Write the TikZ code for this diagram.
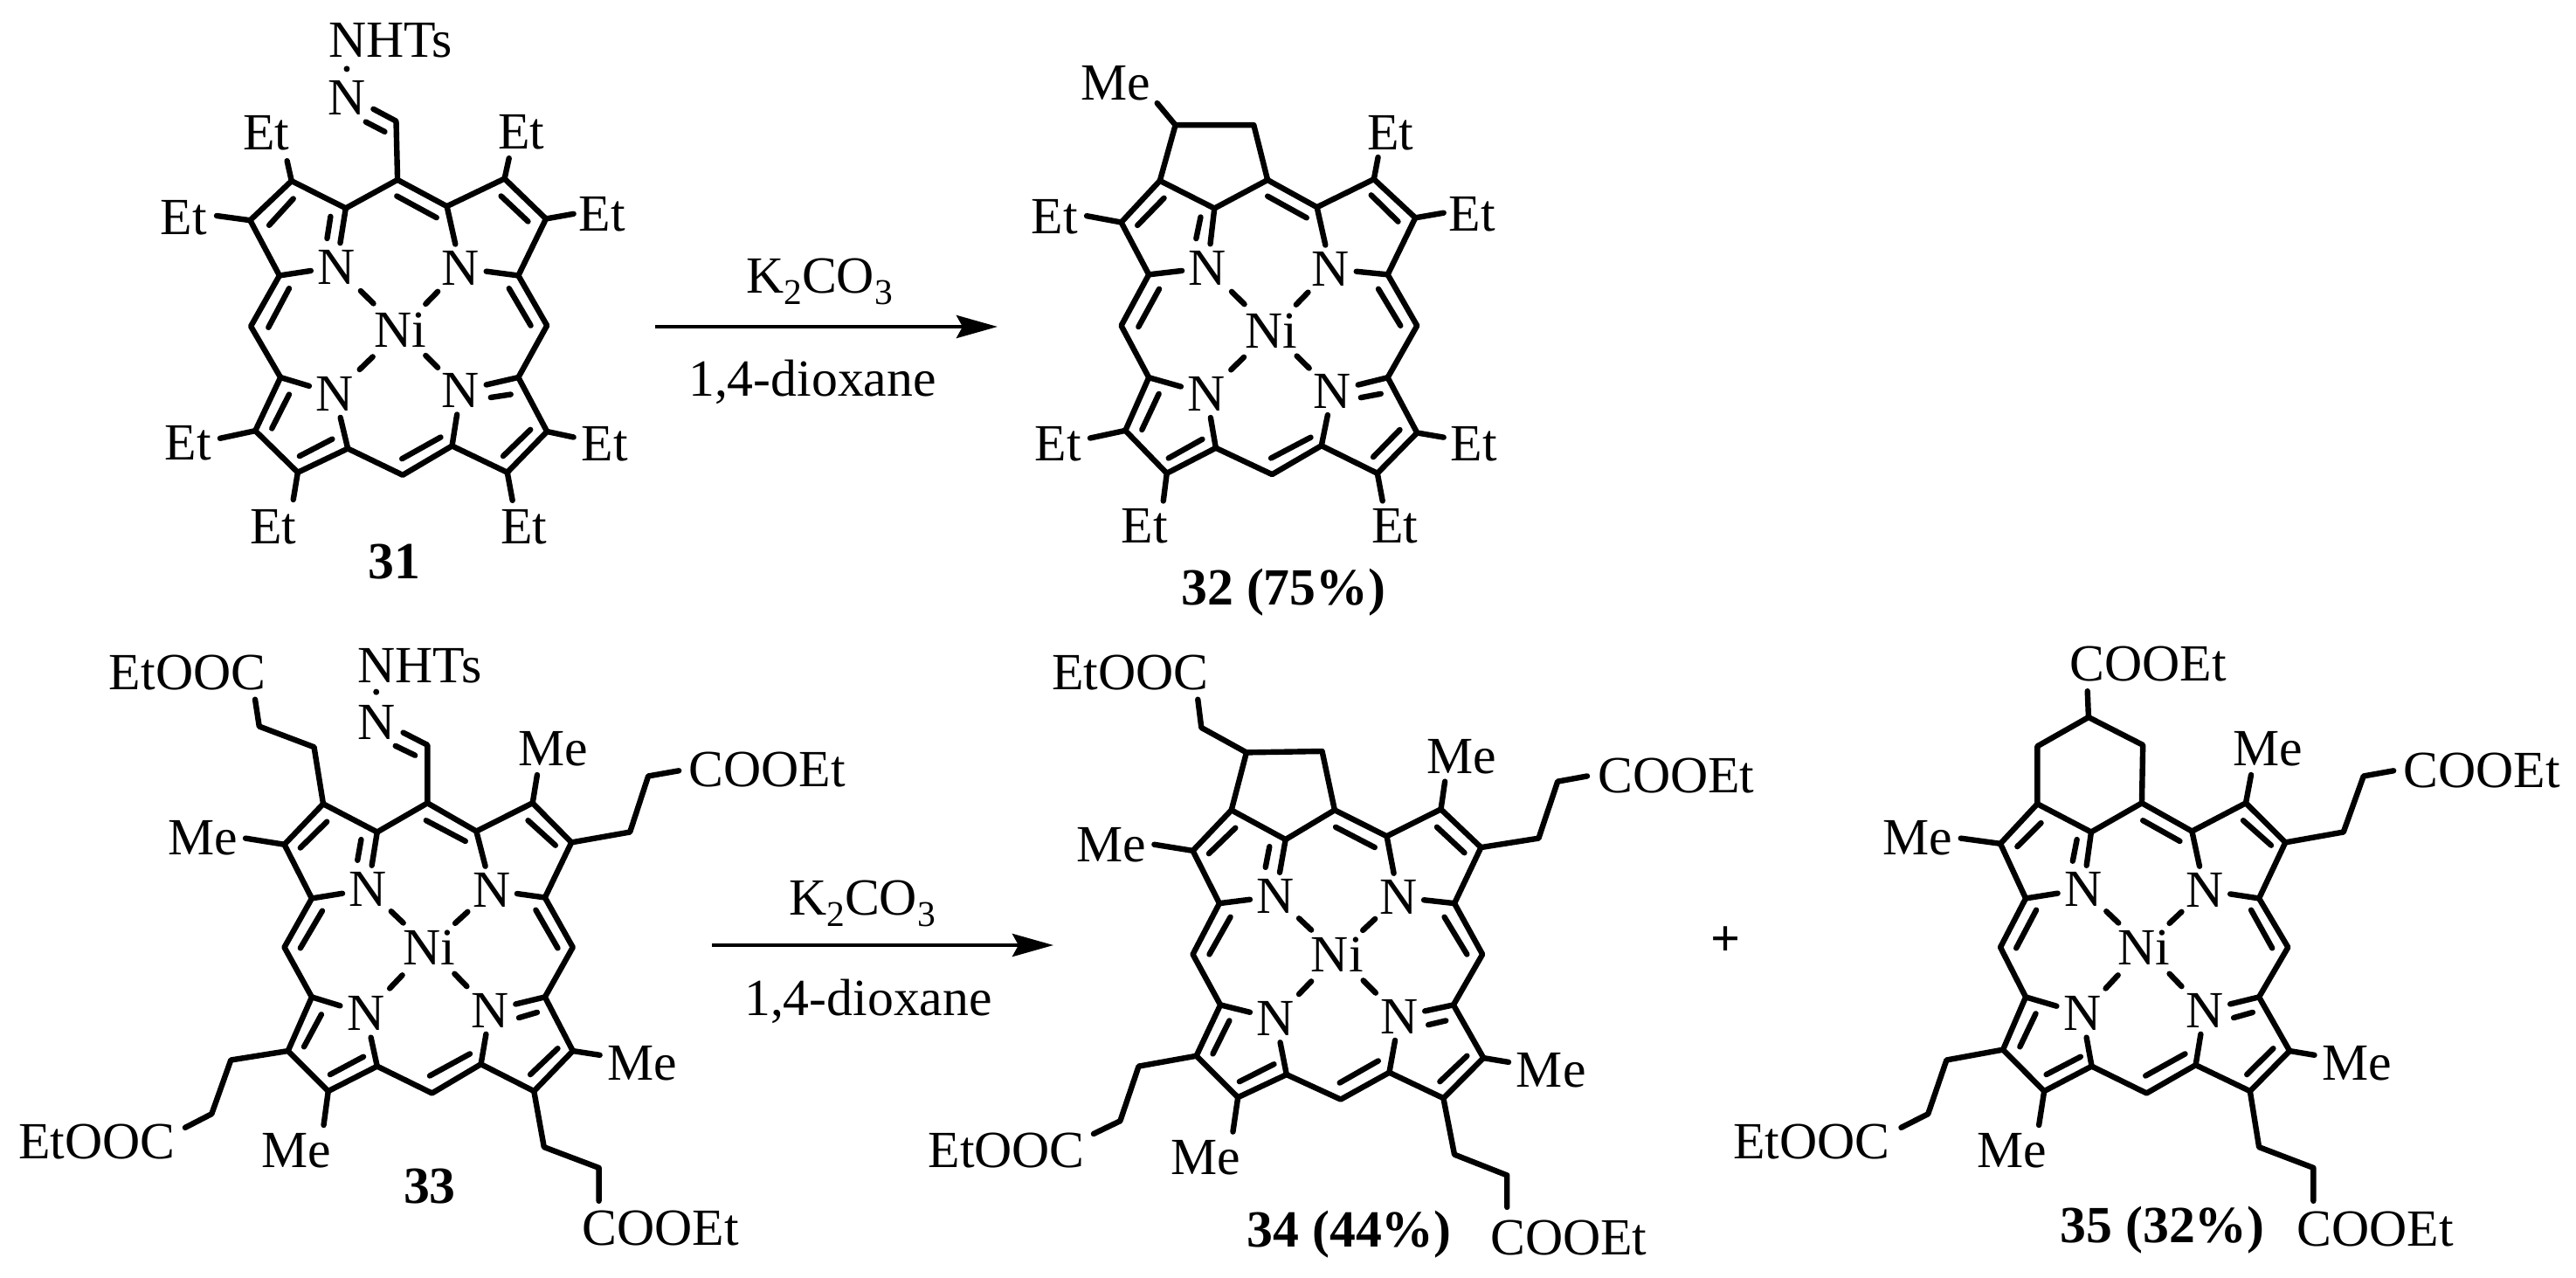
\documentclass[tikz,border=0pt]{standalone}
\usepackage{fontspec}
\setmainfont{Liberation Serif}
\usetikzlibrary{arrows.meta,calc}
\tikzset{
  bond/.style={line width=0.064cm,line cap=round,line join=round,black},
  txt/.style={font=\fontsize{17}{19}\selectfont,inner sep=0pt,text=black},
  atomN/.style={txt,inner sep=0.07cm},
  atomNi/.style={txt,inner sep=0.01cm},
  lbl/.style={txt,font=\fontsize{17}{19}\selectfont\bfseries},
  rxn/.style={line width=0.046cm,black,-{Stealth[length=0.47cm,width=0.26cm,inset=0.07cm]}},
  big/.style={x=0.003954cm,y=-0.004337cm},
  mid/.style={x=0.00523cm,y=-0.004739cm},
  mi2/.style={x=0.00574cm,y=-0.004739cm},
  mi3/.style={x=0.00605cm,y=-0.004739cm}
}
\newcommand\sbs[1]{\raisebox{-0.13cm}{\fontsize{11.8}{12}\selectfont #1}}
\newcommand\stub[2]{\coordinate (stubend) at (#2); \draw[bond] (#1) -- (stubend);}
\newcommand\nidash[2]{\draw[bond] ($(#1)!0.38!(#2)$) -- ($(#1)!0.58!(#2)$);}
\newcommand\core[5]{%
  \node[atomN] (N1) at (#1) {N};
  \node[atomN] (N2) at (#2) {N};
  \node[atomN] (N3) at (#3) {N};
  \node[atomN] (N4) at (#4) {N};
  \node[atomNi] (Ni) at (#5) {Ni};
  \draw[bond] (T)--(aTL)--(bTL1)--(bTL2)--(aLu)--(mL)--(aLd)--(bBL1)--(bBL2)--(aBL)--(mB)--(aBR)--(bBR2)--(bBR1)--(aRd)--(mR)--(aRu)--(bTR2)--(bTR1)--(aTR)--cycle;
  \draw[bond] (aTL)--(N1); \draw[bond] (aLu)--(N1);
  \draw[bond] (aTR)--(N2); \draw[bond] (aRu)--(N2);
  \draw[bond] (aLd)--(N3); \draw[bond] (aBL)--(N3);
  \draw[bond] (aBR)--(N4); \draw[bond] (aRd)--(N4);
  \nidash{N1}{Ni}\nidash{N2}{Ni}\nidash{N3}{Ni}\nidash{N4}{Ni}
}
\begin{document}
\begin{tikzpicture}[x=1cm,y=1cm]
\useasboundingbox (0,0) rectangle (29.49,-14.63);
\fill[white] (0,0) rectangle (29.49,-14.63);

% ---------- 31
\begin{scope}[xshift=1.5cm,yshift=0cm,big]
\coordinate (T) at (772,475);\coordinate (aTL) at (622,550);\coordinate (bTL1) at (465,478);\coordinate (bTL2) at (345,582);
\coordinate (aLu) at (430,728);\coordinate (mL) at (347,862);\coordinate (aLd) at (433,997);\coordinate (bBL1) at (360,1138);
\coordinate (bBL2) at (483,1248);\coordinate (aBL) at (628,1185);\coordinate (mB) at (787,1255);\coordinate (aBR) at (930,1178);
\coordinate (bBR2) at (1090,1248);\coordinate (bBR1) at (1205,1140);\coordinate (aRd) at (1122,997);\coordinate (mR) at (1205,860);
\coordinate (aRu) at (1122,728);\coordinate (bTR2) at (1202,578);\coordinate (bTR1) at (1082,472);\coordinate (aTR) at (915,545);
\core{595,705}{955,708}{590,1040}{955,1032}{780,872}
\draw[bond] (578,572)--(568,630) (1100,1042)--(1042,1050) (400,595)--(470,525) (458,762)--(398,865) (458,1042)--(408,1132)
  (488,1205)--(583,1160) (785,1212)--(897,1155) (1078,1205)--(1157,1135) (1095,762)--(1158,860) (1072,518)--(1150,585) (770,518)--(885,575);
\node[txt] (e1) at (392,352) {Et}; \stub{bTL1}{452,425}
\node[txt] (e2) at (152,575) {Et}; \stub{bTL2}{248,570}
\node[txt] (e3) at (165,1170) {Et}; \stub{bBL1}{258,1158}
\node[txt] (e4) at (412,1392) {Et}; \stub{bBL2}{470,1320}
\node[txt] (e5) at (1130,350) {Et}; \stub{bTR1}{1095,418}
\node[txt] (e6) at (1365,565) {Et}; \stub{bTR2}{1282,565}
\node[txt] (e7) at (1372,1172) {Et}; \stub{bBR1}{1282,1155}
\node[txt] (e8) at (1138,1392) {Et}; \stub{bBR2}{1105,1322}
\draw[bond] (T)--(768,320)--(702,288) (735,348)--(680,322);
\node[txt] (hN) at (625,258) {N};
\node[txt] (hT) at (752,107) {NHTs};
\fill (625,182) circle (0.035cm);
\node[lbl] (c31) at (762,1485) {31};
\end{scope}

% ---------- 32
\begin{scope}[xshift=11.5cm,yshift=-0.5cm,big]
\coordinate (T) at (762,360);\coordinate (aTL) at (608,435);\coordinate (bTL1) at (450,362);\coordinate (bTL2) at (338,472);
\coordinate (aLu) at (418,610);\coordinate (mL) at (338,745);\coordinate (aLd) at (418,882);\coordinate (bBL1) at (350,1022);
\coordinate (bBL2) at (470,1135);\coordinate (aBL) at (612,1068);\coordinate (mB) at (775,1138);\coordinate (aBR) at (918,1062);
\coordinate (bBR2) at (1080,1135);\coordinate (bBR1) at (1195,1028);\coordinate (aRd) at (1110,882);\coordinate (mR) at (1195,745);
\coordinate (aRu) at (1110,610);\coordinate (bTR2) at (1190,460);\coordinate (bTR1) at (1070,358);\coordinate (aTR) at (905,432);
\core{588,592}{945,595}{585,925}{950,918}{772,758}
\draw[bond] (568,458)--(555,515) (1090,925)--(1032,935) (385,480)--(462,408) (448,648)--(388,748) (447,925)--(398,1020)
  (475,1095)--(573,1045) (772,1095)--(887,1040) (1068,1092)--(1145,1020) (1083,648)--(1147,745) (1062,400)--(1140,470) (762,403)--(875,460);
\draw[bond] (bTL1)--(495,215)--(722,215)--(T);
\node[txt] (m1) at (322,105) {Me}; \coordinate (v1) at (495,215); \stub{v1}{442,157}
\node[txt] (e1) at (1118,235) {Et}; \stub{bTR1}{1082,300}
\node[txt] (e2) at (1355,450) {Et}; \stub{bTR2}{1272,447}
\node[txt] (e3) at (145,458) {Et}; \stub{bTL2}{238,455}
\node[txt] (e4) at (155,1058) {Et}; \stub{bBL1}{248,1042}
\node[txt] (e5) at (1360,1058) {Et}; \stub{bBR1}{1272,1040}
\node[txt] (e6) at (405,1275) {Et}; \stub{bBL2}{460,1208}
\node[txt] (e7) at (1130,1275) {Et}; \stub{bBR2}{1095,1208}
\node[lbl] (c32) at (808,1450) {32 (75\%)};
\end{scope}

% ---------- 33
\begin{scope}[xshift=0cm,yshift=-7.2cm,mid]
\coordinate (T) at (935,420);\coordinate (aTL) at (825,490);\coordinate (bTL1) at (707,422);\coordinate (bTL2) at (622,520);
\coordinate (aLu) at (682,650);\coordinate (mL) at (622,768);\coordinate (aLd) at (682,888);\coordinate (bBL1) at (630,1018);
\coordinate (bBL2) at (718,1115);\coordinate (aBL) at (825,1055);\coordinate (mB) at (945,1120);\coordinate (aBR) at (1052,1050);
\coordinate (bBR2) at (1168,1115);\coordinate (bBR1) at (1253,1018);\coordinate (aRd) at (1192,888);\coordinate (mR) at (1253,768);
\coordinate (aRu) at (1192,648);\coordinate (bTR2) at (1250,515);\coordinate (bTR1) at (1165,420);\coordinate (aTR) at (1042,488);
\core{805,628}{1075,630}{800,928}{1072,920}{938,768}
\draw[bond] (790,508)--(782,558) (1175,925)--(1135,938) (657,528)--(715,465) (705,680)--(657,770) (703,930)--(665,1008)
  (722,1075)--(795,1032) (940,1078)--(1028,1025) (1160,1075)--(1220,1012) (1172,678)--(1220,770) (1155,462)--(1215,522) (932,462)--(1018,512);
\node[txt] (s1) at (410,105) {EtOOC}; \draw[bond] (bTL1)--(687,285)--(567,235)--(558,170);
\node[txt] (m1) at (443,505) {Me}; \stub{bTL2}{537,505}
\node[txt] (m2) at (1210,290) {Me}; \stub{bTR1}{1175,352}
\draw[bond] (bTR2)--(1378,490)--(1418,355)--(1485,342);
\node[txt,anchor=west] (s2) at (1505,340) {COOEt};
\draw[bond] (T)--(935,280)--(882,250) (908,305)--(865,282);
\node[txt] (hN) at (823,225) {N};
\node[txt] (hT) at (918,88) {NHTs};
\fill (823,152) circle (0.035cm);
\draw[bond] (bBL1)--(505,1040)--(463,1170)--(405,1203);
\node[txt] (s3) at (212,1238) {EtOOC};
\node[txt] (m3) at (648,1258) {Me}; \stub{bBL2}{708,1197}
\node[txt] (m4) at (1405,1048) {Me}; \stub{bBR1}{1312,1028}
\draw[bond] (bBR2)--(1190,1250)--(1310,1300)--(1310,1380);
\node[txt,anchor=west] (s4) at (1272,1445) {COOEt};
\node[lbl] (c33) at (940,1345) {33};
\end{scope}

% ---------- 34
\begin{scope}[xshift=10.5cm,yshift=-7.2cm,mi2]
\coordinate (T) at (833,437);\coordinate (aTL) at (735,508);\coordinate (bTL1) at (627,437);\coordinate (bTL2) at (550,535);
\coordinate (aLu) at (603,662);\coordinate (mL) at (550,785);\coordinate (aLd) at (605,907);\coordinate (bBL1) at (557,1030);
\coordinate (bBL2) at (640,1130);\coordinate (aBL) at (737,1075);\coordinate (mB) at (845,1135);\coordinate (aBR) at (942,1070);
\coordinate (bBR2) at (1050,1132);\coordinate (bBR1) at (1130,1035);\coordinate (aRd) at (1070,907);\coordinate (mR) at (1128,785);
\coordinate (aRu) at (1072,662);\coordinate (bTR2) at (1125,527);\coordinate (bTR1) at (1045,435);\coordinate (aTR) at (937,500);
\core{715,645}{960,647}{715,940}{962,935}{838,785}
\draw[bond] (703,525)--(695,575) (1055,945)--(1020,955) (582,542)--(635,480) (625,695)--(583,785) (623,945)--(590,1025)
  (643,1092)--(712,1050) (843,1095)--(920,1042) (1043,1092)--(1097,1030) (1052,695)--(1097,785) (1037,478)--(1092,540) (835,478)--(913,527);
\draw[bond] (bTL1)--(657,298)--(808,295)--(T);
\draw[bond] (657,298)--(567,238)--(560,170);
\node[txt] (s1) at (425,105) {EtOOC};
\node[txt] (m1) at (388,520) {Me}; \stub{bTL2}{473,520}
\node[txt] (m2) at (1087,308) {Me}; \stub{bTR1}{1053,368}
\draw[bond] (bTR2)--(1240,505)--(1278,368)--(1337,355);
\node[txt,anchor=west] (s2) at (1357,355) {COOEt};
\draw[bond] (bBL1)--(442,1055)--(405,1187)--(352,1218);
\node[txt] (s3) at (178,1258) {EtOOC};
\node[txt] (m3) at (575,1275) {Me}; \stub{bBL2}{630,1213}
\node[txt] (m4) at (1265,1065) {Me}; \stub{bBR1}{1180,1045}
\draw[bond] (bBR2)--(1072,1268)--(1177,1318)--(1177,1395);
\node[txt] (s4) at (1300,1468) {COOEt};
\node[lbl] (c34) at (862,1460) {34 (44\%)};
\end{scope}

% ---------- 35
\begin{scope}[xshift=20cm,yshift=-7.2cm,mi3]
\coordinate (T) at (748,420);\coordinate (aTL) at (652,490);\coordinate (bTL1) at (550,422);\coordinate (bTL2) at (480,518);
\coordinate (aLu) at (528,650);\coordinate (mL) at (480,768);\coordinate (aLd) at (528,888);\coordinate (bBL1) at (485,1015);
\coordinate (bBL2) at (563,1115);\coordinate (aBL) at (653,1055);\coordinate (mB) at (757,1120);\coordinate (aBR) at (850,1052);
\coordinate (bBR2) at (953,1115);\coordinate (bBR1) at (1028,1018);\coordinate (aRd) at (970,888);\coordinate (mR) at (1025,768);
\coordinate (aRu) at (970,650);\coordinate (bTR2) at (1020,515);\coordinate (bTR1) at (945,420);\coordinate (aTR) at (843,488);
\core{637,628}{867,630}{635,928}{867,920}{752,768}
\draw[bond] (625,508)--(617,560) (958,925)--(922,938) (512,525)--(557,468) (548,678)--(510,770) (547,928)--(517,1008)
  (567,1075)--(632,1032) (755,1078)--(830,1025) (947,1075)--(997,1012) (955,678)--(995,770) (940,462)--(993,522) (750,462)--(820,512);
\draw[bond] (bTL1)--(550,283)--(647,213)--(750,280)--(T);
\draw[bond] (647,213)--(645,150);
\node[txt] (s0) at (760,85) {COOEt};
\node[txt] (m1) at (323,505) {Me}; \stub{bTL2}{405,505}
\node[txt] (m2) at (987,290) {Me}; \stub{bTR1}{955,352}
\draw[bond] (bTR2)--(1130,490)--(1168,355)--(1225,342);
\node[txt,anchor=west] (s2) at (1243,342) {COOEt};
\draw[bond] (bBL1)--(378,1040)--(343,1170)--(292,1203);
\node[txt,anchor=east] (s3) at (272,1238) {EtOOC};
\node[txt] (m3) at (502,1258) {Me}; \stub{bBL2}{553,1197}
\node[txt] (m4) at (1155,1048) {Me}; \stub{bBR1}{1075,1028}
\draw[bond] (bBR2)--(970,1250)--(1073,1300)--(1073,1380);
\node[txt] (s4) at (1190,1447) {COOEt};
\node[lbl] (c35) at (787,1450) {35 (32\%)};
\end{scope}

% ---------- reactions
\coordinate (a1s) at (7.50,-3.74); \coordinate (a1e) at (11.42,-3.74);
\draw[rxn] (a1s) -- (a1e);
\node[txt] (r1) at (9.38,-3.22) {K\sbs{2}CO\sbs{3}};
\node[txt] (r2) at (9.30,-4.37) {1,4-dioxane};
\coordinate (a2s) at (8.15,-10.82); \coordinate (a2e) at (12.06,-10.82);
\draw[rxn] (a2s) -- (a2e);
\node[txt] (r3) at (9.87,-10.34) {K\sbs{2}CO\sbs{3}};
\node[txt] (r4) at (9.94,-11.46) {1,4-dioxane};
\node[lbl] (plus) at (19.76,-10.78) {+};
\end{tikzpicture}
\end{document}
